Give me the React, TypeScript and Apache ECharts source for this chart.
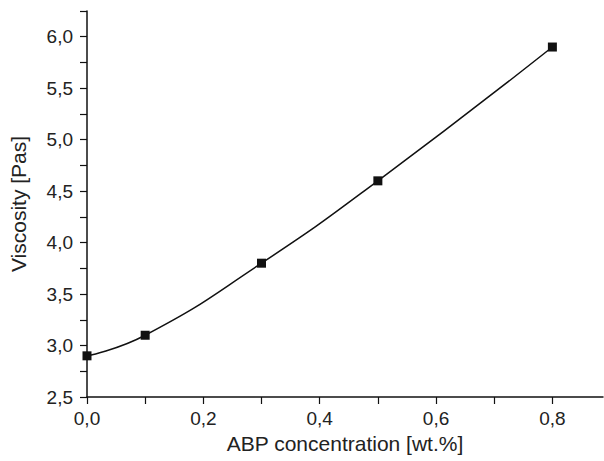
import React, { useEffect, useRef } from "react";
import * as echarts from "echarts";

const concentration = [0.0, 0.1, 0.3, 0.5, 0.8];
const viscosity = [2.9, 3.1, 3.8, 4.6, 5.9];
const xTitle = "ABP concentration [wt.%]";
const yTitle = "Viscosity [Pas]";

const fmt = (v: number, step: number) => {
  const k = Math.round(v / step);
  if (Math.abs(v / step - k) > 1e-6) return "";
  return k % 2 === 0 ? v.toFixed(1).replace(".", ",") : "";
};

export default function App() {
  const ref = useRef<HTMLDivElement>(null);
  useEffect(() => {
    if (!ref.current) return;
    const chart = echarts.init(ref.current, null, { renderer: "svg" });
    const font = "'Liberation Sans', Arial, sans-serif";
    chart.setOption({
      animation: false,
      backgroundColor: "#ffffff",
      grid: { left: 86, right: 1, top: 11, bottom: 64, containLabel: false },
      xAxis: {
        type: "value",
        min: 0,
        max: 0.887,
        interval: 0.1,
        name: xTitle,
        nameLocation: "middle",
        nameGap: 30,
        nameTextStyle: { fontSize: 21, color: "#222", fontFamily: font },
        axisLine: { onZero: false, lineStyle: { color: "#111", width: 1.5 } },
        axisTick: { inside: false, length: 7, lineStyle: { color: "#111", width: 1.2 } },
        axisLabel: {
          margin: 12,
          fontSize: 19,
          color: "#222",
          fontFamily: font,
          showMaxLabel: false,
          formatter: (v: number) => fmt(v, 0.1),
        },
        splitLine: { show: false },
      },
      yAxis: {
        type: "value",
        min: 2.5,
        max: 6.25,
        interval: 0.25,
        name: yTitle,
        nameLocation: "middle",
        nameGap: 58,
        nameTextStyle: { fontSize: 21, color: "#222", fontFamily: font },
        axisLine: { show: true, lineStyle: { color: "#111", width: 1.5 } },
        axisTick: { show: true, inside: false, length: 7, lineStyle: { color: "#111", width: 1.2 } },
        axisLabel: {
          margin: 14,
          fontSize: 19,
          color: "#222",
          fontFamily: font,
          formatter: (v: number) => {
            const k = Math.round(v / 0.25);
            return k % 2 === 0 ? v.toFixed(1).replace(".", ",") : "";
          },
        },
        splitLine: { show: false },
      },
      series: [
        {
          type: "line",
          data: concentration.map((x, i) => [x, viscosity[i]]),
          smooth: 0.5,
          symbol: "rect",
          symbolSize: 9,
          showAllSymbol: true,
          lineStyle: { color: "#111", width: 1.5 },
          itemStyle: { color: "#111" },
          clip: true,
        },
      ],
    });
    return () => chart.dispose();
  }, []);
  return (
    <div
      ref={ref}
      style={{ position: "fixed", left: 0, top: 0, width: 604, height: 461, background: "#fff" }}
    />
  );
}
